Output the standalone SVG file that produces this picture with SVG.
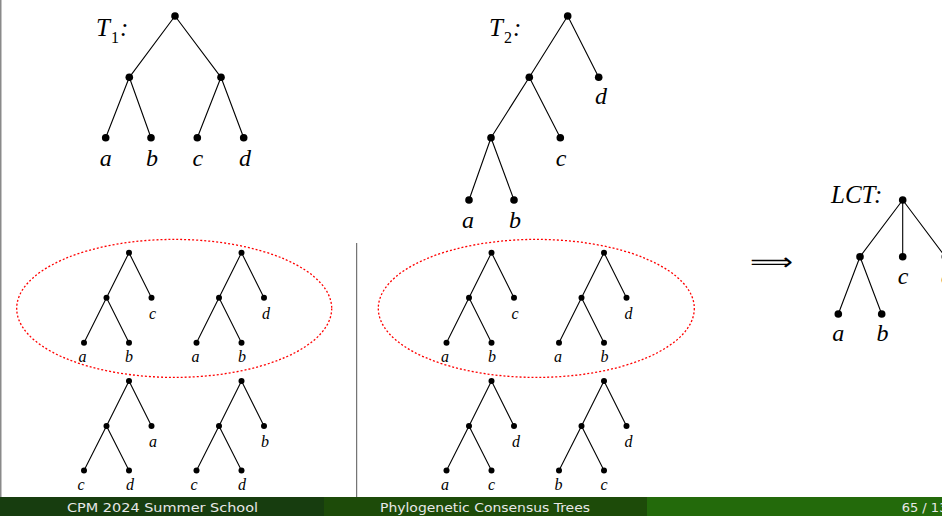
<svg xmlns="http://www.w3.org/2000/svg" width="942" height="516" viewBox="0 0 942 516">
<style>
.e{stroke:#000;stroke-width:1.1;fill:none}
.n{fill:#000}
.L{font-family:"Liberation Serif",serif;font-style:italic;font-size:24px;fill:#000;text-anchor:middle}
.s{font-family:"Liberation Serif",serif;font-style:italic;font-size:16px;fill:#000;text-anchor:middle}
.t{font-family:"Liberation Serif",serif;font-style:italic;font-size:25px;fill:#000}
.ell{fill:none;stroke:#ff0000;stroke-width:1.3;stroke-dasharray:2 2}
.f{font-family:"DejaVu Sans",sans-serif;font-size:13px;fill:#e8e8e8}
</style>
<rect x="0" y="0" width="942" height="516" fill="#fff"/>
<rect x="0" y="0" width="1.5" height="497" fill="#8a8a8a"/>
<line x1="356.7" y1="243" x2="356.7" y2="497" stroke="#555" stroke-width="1"/>

<g id="connectors">
 <path class="e" d="M175,16 L129.3,77.3 M175,16 L221,77.3 M129.3,77.3 L105.7,137.7 M129.3,77.3 L151,137.7 M221,77.3 L197.3,137.7 M221,77.3 L243.7,137.7"/>
 <path class="e" d="M567.7,16 L529.3,77.3 M567.7,16 L598.7,77.3 M529.3,77.3 L491,137.7 M529.3,77.3 L560.3,137.7 M491,137.7 L469,200 M491,137.7 L514,200"/>
 <path class="e" d="M902.7,200 L860,256.7 M902.7,200 L902.7,256.7 M902.7,200 L945.3,256.7 M860,256.7 L838.3,314 M860,256.7 L881.7,314"/>
 <path class="e" d="M129,252.7 L106.5,297.7 M129,252.7 L151.5,297.7 M106.5,297.7 L84,342.7 M106.5,297.7 L129,342.7"/>
 <path class="e" d="M241.5,252.7 L219,297.7 M241.5,252.7 L264,297.7 M219,297.7 L196.5,342.7 M219,297.7 L241.5,342.7"/>
 <path class="e" d="M129,381 L106.5,426 M129,381 L151.5,426 M106.5,426 L84,470.5 M106.5,426 L129,470.5"/>
 <path class="e" d="M241.5,381 L219,426 M241.5,381 L264,426 M219,426 L196.5,470.5 M219,426 L241.5,470.5"/>
 <path class="e" d="M491.5,252.7 L469,297.7 M491.5,252.7 L514,297.7 M469,297.7 L446.5,342.7 M469,297.7 L491.5,342.7"/>
 <path class="e" d="M604,252.7 L581.5,297.7 M604,252.7 L626.5,297.7 M581.5,297.7 L559,342.7 M581.5,297.7 L604,342.7"/>
 <path class="e" d="M491.5,381 L469,426 M491.5,381 L514,426 M469,426 L446.5,470.5 M469,426 L491.5,470.5"/>
 <path class="e" d="M604,381 L581.5,426 M604,381 L626.5,426 M581.5,426 L559,470.5 M581.5,426 L604,470.5"/>
</g>

<g id="T1">
 <text class="t" x="96" y="36">T</text>
 <text class="t" x="111" y="43" style="font-size:16px;font-style:normal">1</text>
 <text class="t" x="120" y="36">:</text>
 <circle class="n" cx="175" cy="16" r="3.8"/>
 <circle class="n" cx="129.3" cy="77.3" r="3.8"/>
 <circle class="n" cx="221" cy="77.3" r="3.8"/>
 <circle class="n" cx="105.7" cy="137.7" r="3.8"/>
 <circle class="n" cx="151" cy="137.7" r="3.8"/>
 <circle class="n" cx="197.3" cy="137.7" r="3.8"/>
 <circle class="n" cx="243.7" cy="137.7" r="3.8"/>
 <text class="L" x="105.7" y="166">a</text>
 <text class="L" x="152" y="166">b</text>
 <text class="L" x="197.8" y="166">c</text>
 <text class="L" x="245" y="166">d</text>
</g>

<g id="T2">
 <text class="t" x="489" y="36">T</text>
 <text class="t" x="504" y="43" style="font-size:16px;font-style:normal">2</text>
 <text class="t" x="513" y="36">:</text>
 <circle class="n" cx="567.7" cy="16" r="3.8"/>
 <circle class="n" cx="529.3" cy="77.3" r="3.8"/>
 <circle class="n" cx="598.7" cy="77.3" r="3.8"/>
 <circle class="n" cx="491" cy="137.7" r="3.8"/>
 <circle class="n" cx="560.3" cy="137.7" r="3.8"/>
 <circle class="n" cx="469" cy="200" r="3.8"/>
 <circle class="n" cx="514" cy="200" r="3.8"/>
 <text class="L" x="601" y="104">d</text>
 <text class="L" x="561" y="166">c</text>
 <text class="L" x="468" y="228">a</text>
 <text class="L" x="515" y="228">b</text>
</g>

<g id="LCT">
 <text class="t" x="831" y="203">LCT:</text>
 <circle class="n" cx="902.7" cy="200" r="3.8"/>
 <circle class="n" cx="860" cy="256.7" r="3.8"/>
 <circle class="n" cx="902.7" cy="256.7" r="3.8"/>
 <circle class="n" cx="945.3" cy="256.7" r="3.8"/>
 <circle class="n" cx="838.3" cy="314" r="3.8"/>
 <circle class="n" cx="881.7" cy="314" r="3.8"/>
 <text class="L" x="903" y="284">c</text>
 <text class="L" x="947" y="284">d</text>
 <text class="L" x="838.3" y="341">a</text>
 <text class="L" x="882.5" y="341">b</text>
</g>

<g id="arrow">
 <text x="750" y="270" style="font-family:'DejaVu Sans',sans-serif;font-size:24px" textLength="43" lengthAdjust="spacingAndGlyphs">⟹</text>
</g>

<g id="ellipses">
 <ellipse class="ell" cx="174.2" cy="308.4" rx="157.5" ry="69"/>
 <ellipse class="ell" cx="536.3" cy="308.4" rx="158" ry="69"/>
</g>

<g id="L1">
 <circle class="n" cx="129" cy="252.7" r="3"/><circle class="n" cx="106.5" cy="297.7" r="3"/><circle class="n" cx="151.5" cy="297.7" r="3"/><circle class="n" cx="84" cy="342.7" r="3"/><circle class="n" cx="129" cy="342.7" r="3"/>
 <text class="s" x="152.5" y="319">c</text><text class="s" x="82.5" y="362">a</text><text class="s" x="129" y="362">b</text>
</g>
<g id="L2">
 <circle class="n" cx="241.5" cy="252.7" r="3"/><circle class="n" cx="219" cy="297.7" r="3"/><circle class="n" cx="264" cy="297.7" r="3"/><circle class="n" cx="196.5" cy="342.7" r="3"/><circle class="n" cx="241.5" cy="342.7" r="3"/>
 <text class="s" x="266" y="319">d</text><text class="s" x="195.5" y="362">a</text><text class="s" x="242" y="362">b</text>
</g>
<g id="L3">
 <circle class="n" cx="129" cy="381" r="3"/><circle class="n" cx="106.5" cy="426" r="3"/><circle class="n" cx="151.5" cy="426" r="3"/><circle class="n" cx="84" cy="470.5" r="3"/><circle class="n" cx="129" cy="470.5" r="3"/>
 <text class="s" x="153" y="447">a</text><text class="s" x="81" y="490">c</text><text class="s" x="130" y="490">d</text>
</g>
<g id="L4">
 <circle class="n" cx="241.5" cy="381" r="3"/><circle class="n" cx="219" cy="426" r="3"/><circle class="n" cx="264" cy="426" r="3"/><circle class="n" cx="196.5" cy="470.5" r="3"/><circle class="n" cx="241.5" cy="470.5" r="3"/>
 <text class="s" x="265" y="447">b</text><text class="s" x="194" y="490">c</text><text class="s" x="242" y="490">d</text>
</g>
<g id="M1">
 <circle class="n" cx="491.5" cy="252.7" r="3"/><circle class="n" cx="469" cy="297.7" r="3"/><circle class="n" cx="514" cy="297.7" r="3"/><circle class="n" cx="446.5" cy="342.7" r="3"/><circle class="n" cx="491.5" cy="342.7" r="3"/>
 <text class="s" x="515" y="319">c</text><text class="s" x="445" y="362">a</text><text class="s" x="492" y="362">b</text>
</g>
<g id="M2">
 <circle class="n" cx="604" cy="252.7" r="3"/><circle class="n" cx="581.5" cy="297.7" r="3"/><circle class="n" cx="626.5" cy="297.7" r="3"/><circle class="n" cx="559" cy="342.7" r="3"/><circle class="n" cx="604" cy="342.7" r="3"/>
 <text class="s" x="628.5" y="319">d</text><text class="s" x="558" y="362">a</text><text class="s" x="604.5" y="362">b</text>
</g>
<g id="M3">
 <circle class="n" cx="491.5" cy="381" r="3"/><circle class="n" cx="469" cy="426" r="3"/><circle class="n" cx="514" cy="426" r="3"/><circle class="n" cx="446.5" cy="470.5" r="3"/><circle class="n" cx="491.5" cy="470.5" r="3"/>
 <text class="s" x="516" y="447">d</text><text class="s" x="445" y="490">a</text><text class="s" x="491.5" y="490">c</text>
</g>
<g id="M4">
 <circle class="n" cx="604" cy="381" r="3"/><circle class="n" cx="581.5" cy="426" r="3"/><circle class="n" cx="626.5" cy="426" r="3"/><circle class="n" cx="559" cy="470.5" r="3"/><circle class="n" cx="604" cy="470.5" r="3"/>
 <text class="s" x="628.5" y="447">d</text><text class="s" x="558.5" y="490">b</text><text class="s" x="604" y="490">c</text>
</g>

<g id="footer">
 <rect x="0" y="497" width="324" height="19" fill="#173d0f"/>
 <rect x="324" y="497" width="323" height="19" fill="#1d4b09"/>
 <rect x="647" y="497" width="295" height="19" fill="#236a0b"/>
 <text class="f" x="162.5" y="512" text-anchor="middle" textLength="191" lengthAdjust="spacingAndGlyphs">CPM 2024 Summer School</text>
 <text class="f" x="485" y="512" text-anchor="middle" textLength="210" lengthAdjust="spacingAndGlyphs">Phylogenetic Consensus Trees</text>
 <text class="f" x="901.7" y="512">65 / 13</text>
</g>
</svg>
